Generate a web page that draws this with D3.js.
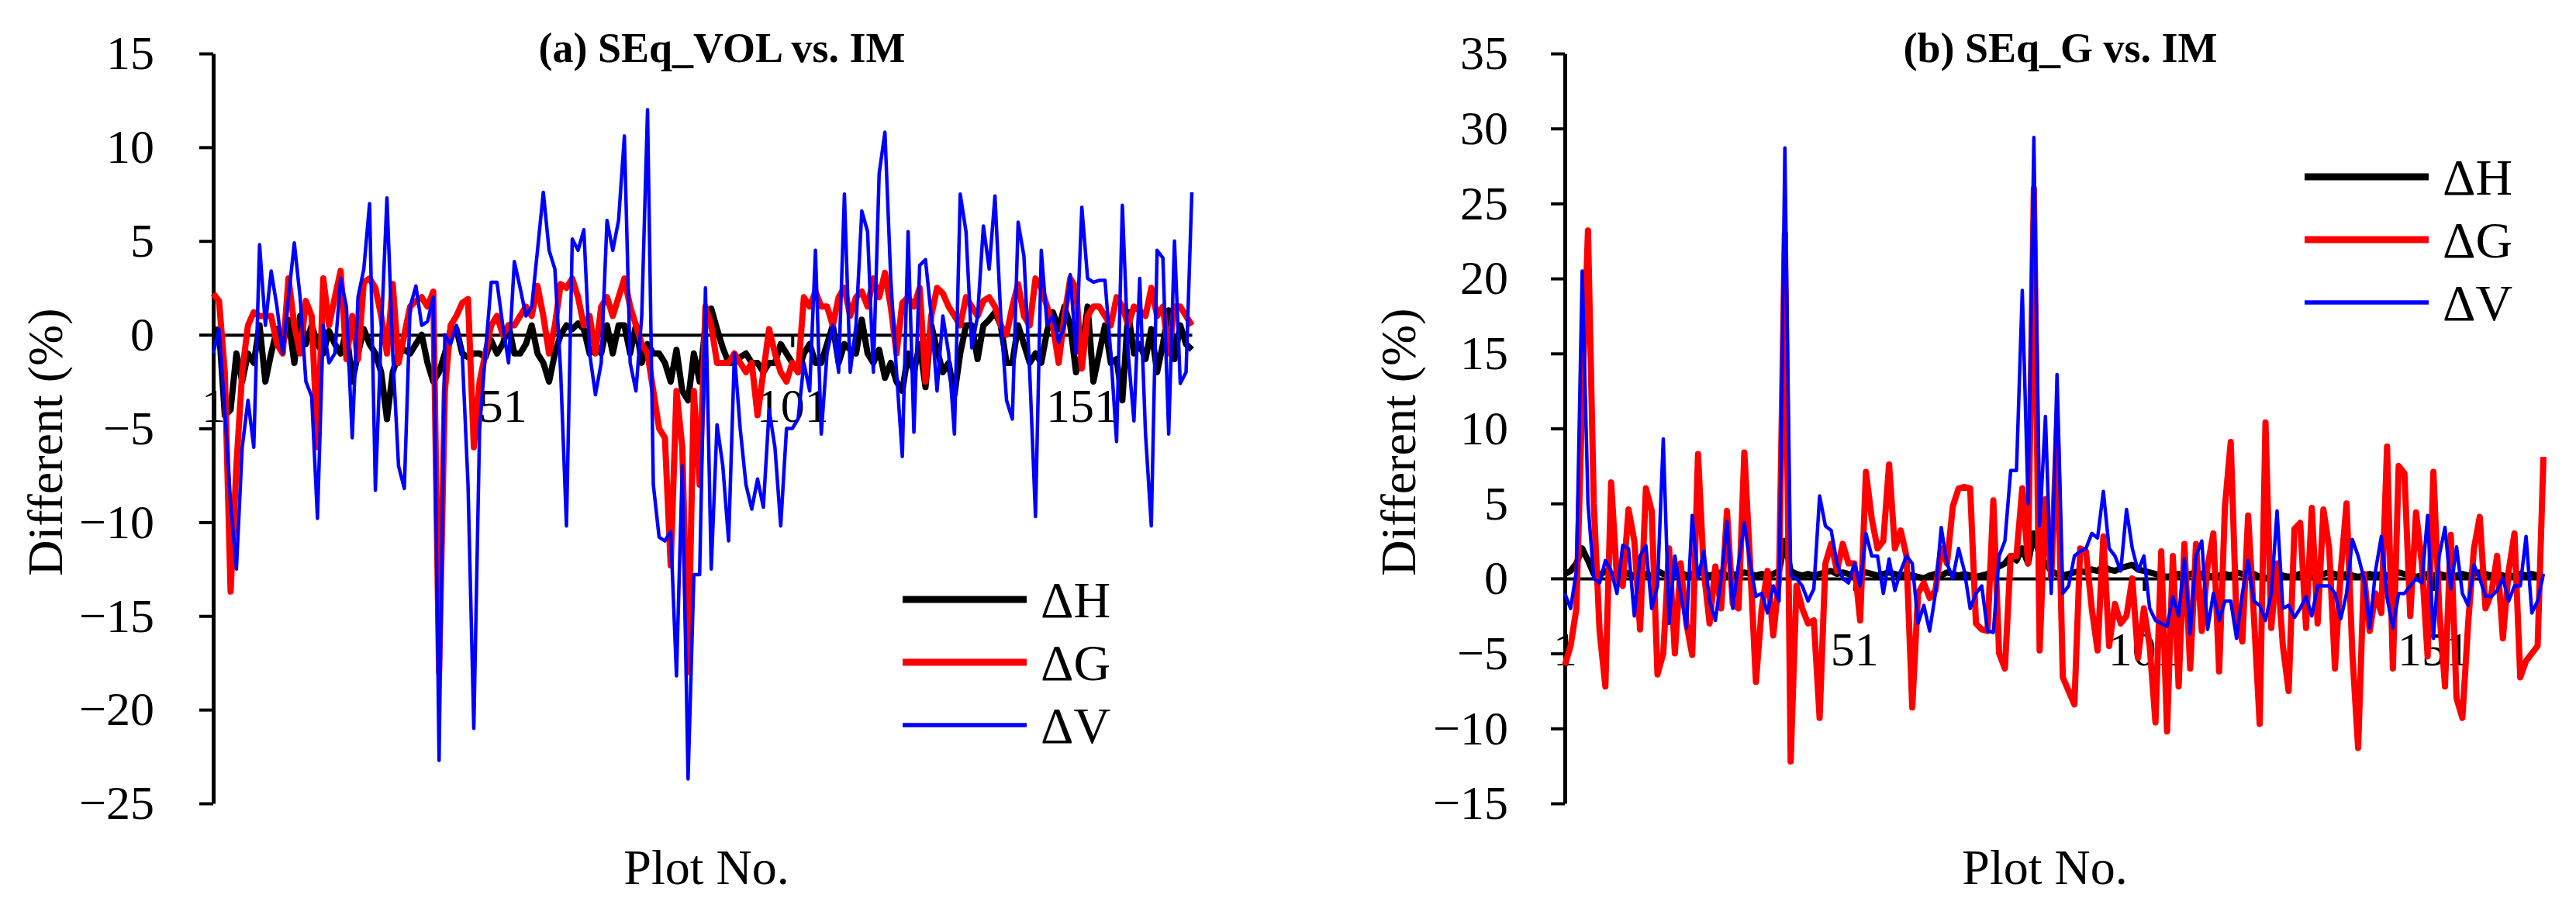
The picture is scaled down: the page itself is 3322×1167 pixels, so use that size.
<!DOCTYPE html>
<html><head><meta charset="utf-8">
<script src="https://cdn.jsdelivr.net/npm/d3@7"></script>
<style>body{margin:0;background:#fff}svg{display:block}</style>
</head><body>
<svg id="c" width="3322" height="1167"></svg>
<script>
const xTicks = [1, 51, 101, 151];
const seriesNames = ["ΔH", "ΔG", "ΔV"];
const yTicksA = [15, 10, 5, 0, -5, -10, -15, -20, -25];
const yTicksB = [35, 30, 25, 20, 15, 10, 5, 0, -5, -10, -15];

const hA = [0.2,0.3,-4.3,-4,-1,-2.5,-1,-1.5,0.5,-2.5,
-1,0.3,-0.5,0.8,-1.5,1,-0.5,0.5,-0.5,-1,
0.2,-0.5,-1,0.2,-2.5,-1,0.3,-0.5,-1,-2,
-4.5,-2,-1,-0.8,-1,-0.5,0,-1.5,-2.5,-2,
-1,0.3,0.3,-1,-1.2,-1,-1,-1.2,-0.3,-1,
-0.5,0.5,-1,-1,-0.5,0.5,-1,-1.5,-2.5,-1,
0,0.5,0.3,0.6,0.3,-1,-0.5,-1,0.5,-1,
0.5,0.5,-1,0.5,-1.5,-0.5,-1,-1,-1.5,-2.5,
-0.8,-3,-3.5,-1,-2.5,0.5,1.4,0.3,-0.7,-1.5,
-1.5,-1.2,-1,-1.5,-1.5,-2,-1.5,-1.5,-0.5,-1,
-1.5,-2,-1,-0.5,-1.5,-1.5,-0.5,0.5,-1.5,-0.5,
-0.8,-1,0.8,-1,-1.5,-0.8,-2.3,-1.5,-2.5,-3,
-1,-2,-0.5,-2.8,0.5,-0.8,-2,-1.5,-3.2,-1,
0.5,0.5,-1.3,0.5,0.8,1.2,0.5,-1.5,-1.5,0.5,
-0.5,-1.5,-1,-1.5,0.2,1.2,0.3,1.5,0.5,-2,
-1,1.5,-2.5,-1,0.5,-1.5,-1.3,-3.5,1.2,-1,
-0.5,-1.3,0.3,-2,-0.5,1.3,-1.3,0.5,-0.5,-0.8];
const gA = [2.2,1.8,-2,-13.7,-7,-2,0.5,1.2,1,1,
1,-0.5,-1,3,0.5,-1,1.8,1,-6,3,
0.5,2,3.4,-1.3,1,-1.3,2.8,3,2.5,1,
-1,2.7,-1.5,0,1.5,1.8,2,1.5,2.3,-18,
-3,0.5,1,1.7,1.9,-6,-2.5,-1,0.5,1,
0,0.5,0.5,1,1.5,1,2.6,1,-1,0.5,
2.7,2.5,3,2,0.5,1,-1,1.5,2,1,
2,3,1.5,0.5,-0.5,-1,-3,-5,-5.5,-12.3,
-3,-6,-18,-3,-8,1.5,0.5,-1.5,-1.5,-1.5,
-1,-1.5,-2,-1.5,-4.3,-2,0.3,-1,-2,-2.5,
-1.5,-2,2,1.5,2.3,1.5,1.5,0.5,2,2.5,
1,2,2.3,1.5,3,2,3.3,1.5,-1,1.7,
2,1.5,2.5,-2.5,1,2.5,2.2,1.5,1,0.5,
2,1.5,1,1.8,2,1.5,0.5,0,1.5,2.7,
1,0.5,3,2.5,1.5,0.5,-1.5,1,3,2.5,
-1.8,1,1.5,1.5,1,0.5,2,1.5,0.5,1.5,
1.3,1,2.5,1,1.5,-1,1.5,1.5,1,0.5];
const vA = [-1,0.3,-4,-9,-12.5,-6,-3.5,-6,4.8,0.5,
3.4,1.5,-1,2,4.9,2,-2.5,-3.3,-9.8,0.5,
-1.5,-1,3,1.5,-5.5,2,3.5,7,-8.3,0,
7.3,-1,-7,-8.2,1.5,2.6,0.5,0.7,2,-22.7,
0,-0.5,0.5,-1,-8,-21,-5,-1,2.8,2.8,
0.5,-1.5,3.9,2.5,1,1.5,4.5,7.6,4.5,3.5,
-2,-10.2,5.1,4.5,5.6,-1,-3.2,-1.5,6.1,4.5,
6.1,10.6,-1.5,-3,1,12,-8,-10.8,-11,-10.5,
-18.2,-7,-23.7,-12.8,-12.8,2.5,-12.5,-4.8,-7,-11,
-1,-5,-8,-9.3,-7.7,-9.2,-4,-6,-10.2,-5,
-5,-4.5,-1.5,-3,4.5,-5.3,-1,0.5,-2,7.5,
-2,0.5,6.6,5.5,-2,8.6,10.8,3,-2,-6.5,
5.5,-5.2,3.7,4,1,-3,1,-1,-5.3,7.5,
5.5,-0.7,1,5.8,3.5,7.4,1,-3.5,-4.5,6,
4.2,-2,-9.7,4.5,0.5,1,-0.4,0.5,3.2,-1,
6.8,3,2.8,2.9,2.9,-1,-5.7,6.9,-1,-4.6,
3,-5.3,-10.2,4.5,4.1,-5.3,5,-2.6,-2,7.6];

const hB = [0.3,0.5,1,2,1.2,0.3,0.2,0.5,0.3,0.2,
0.5,0.3,0.2,0.4,0.3,0.2,0.5,0.3,0.2,0.3,
0.4,0.2,0.3,0.5,0.3,0.2,0.3,0.4,0.2,0.3,
0.2,0.4,0.3,0.2,0.3,0.2,0.3,0.5,2.5,0.5,
0.3,0.2,0.3,0.2,0.3,0.4,0.5,0.3,0.4,0.3,
0.2,0.3,0.4,0.3,0.2,0.3,0.4,0.3,0.2,0.3,
0.2,0.1,0,0.2,0.3,0.2,0.4,0.3,0.2,0.3,
0.2,0.1,0.2,0.3,0.5,0.8,1,1.5,1.2,2,
1,3,1.5,1,0.5,0.3,0.2,0.3,0.4,0.5,
0.4,0.6,0.5,0.8,0.6,0.5,0.7,0.8,0.9,0.6,
0.5,0.4,0.3,0.2,0.1,0.2,0.3,0.2,0.3,0.4,
0.3,0.2,0.1,0.2,0.3,0.2,0.4,0.3,0.2,0.3,
0.1,0,0.2,0.3,0.2,0.1,0.2,0.3,0.2,0.1,
0.2,0.3,0.4,0.3,0.2,0.3,0.2,0.1,0.2,0.3,
0.2,0.3,0.2,0.3,0.4,0.3,0.2,0.1,0.2,0.3,
0.2,0.3,0.2,0.1,0.2,0.3,0.2,0.3,0.4,0.3,
0.2,0.3,0.2,0.1,0.2,0.3,0.2,0.3,0.2,0.3];
const gB = [-5.8,-4.5,-2,12,23.2,5,-3.5,-7.2,6.4,0,
-0.5,4.6,2.5,-3.4,6,4.5,-6.4,-5,2,-5,
1,-3,-5.1,8.3,0.5,-3,0.8,-2,4.5,-1.7,
-2,8.4,1,-6.9,-2,0.5,-3.8,0,23,-12.2,
-0.5,-2,-3,-2.8,-9.3,1,2.3,0.5,2.3,1,
1,-2.8,7.1,4,2,2.5,7.6,2,3.2,1.5,
-8.6,-1,-0.3,-1.3,-0.8,2,1,4.8,6,6.1,
6,-3,-3.4,-3.5,5.2,-5,-6,1.5,1.5,6,
1,26,-4.8,5.3,0,10,-6.6,-7.5,-8.4,2,
1.8,-2,-4.8,2.8,-4.5,-1.7,-3,-2.5,0,-5.3,
-2,-4.5,-9.6,1.8,-10.2,1.5,-7.2,2.3,-6,2.3,
-3.5,0.8,3,-6.2,4.8,9.1,-2.8,-4.2,4.2,-2.5,
-9.7,10.4,-3.3,1,-4.5,-7.5,3.3,3.7,-3.3,4.7,
-3,4.6,2,-6,0.5,5,-5,-11.3,0.3,-3.5,
-1,-2.3,8.8,-6,7.5,7,-2.5,4.4,1,-5.2,
7.1,-2,-7.2,2.9,-8,-9.3,-3,2,4.1,-2,
-1,1.5,-4,0.5,3,-6.6,-5.5,-5,-4.5,8.1];
const vB = [-1,-2,0.5,20.5,5,0,-0.3,1.2,0.5,-1,
2.2,2,-2.5,1.5,2.2,-2,-0.5,9.3,-3,1.5,
-1,-3.3,4.2,0,1.8,-1.5,-2.8,0,3.8,-2,
1,3.7,1,-1.2,-1,-2.3,-0.5,-1.5,28.7,0.2,
0,-0.5,-1.5,-0.7,5.5,3.5,3.2,1,0,-0.3,
1,-0.5,3,1.5,1.5,-1,1.3,-0.8,0.5,1.5,
1,-3,-1.8,-3.5,-1,3.4,1,0,2,0.5,
-2,-1,-0.5,-3.5,-3.6,1.5,2.5,7.2,7.2,19.2,
5,29.4,3.5,10.8,-1,13.6,-1,-0.5,1.5,1.8,
2,3,2.7,5.8,2,1.5,0.5,4.6,2,0.5,
1.5,-2,-2.8,-3,-3.2,-1.2,-2.5,1.3,-3.7,1.5,
2.5,-3.4,-1,-2.8,-1.5,-1.5,-4,-1,1.2,-1.5,
-1.8,-2.8,-1,4.5,-2,-1.8,-2.6,-2,-1.2,-2.5,
-0.5,-0.5,-0.5,-1,-2.7,-1,2.6,1.5,0,-3.3,
0.5,2.8,-1.3,-3.3,-1,-1,-0.5,0,-0.3,4.2,
-4,1.5,3.4,-0.7,2.1,-1,-1.8,0.9,0,-1.2,
-1.2,-0.8,0,-1.5,-0.5,-0.5,2.8,-2.3,-1.5,0.3];

const colors = ["#000", "#ff0000", "#0000ff"];
const widths = [8, 8, 4.5];
const FONT = "'Liberation Serif','Times New Roman',serif";
const svg = d3.select("#c").style("font-family", FONT);

function panel(cfg) {
  const x = d3.scaleLinear().domain([1, 170]).range([cfg.x0, cfg.x1]);
  const y = d3.scaleLinear().domain(cfg.ydom).range([1036, 69]);
  const g = svg.append("g");
  // y axis
  const ya = g.append("g").attr("transform", `translate(${cfg.x0},0)`)
    .call(d3.axisLeft(y).tickValues(cfg.yticks).tickSize(18).tickPadding(cfg.pad).tickSizeOuter(0));
  ya.select(".domain").attr("stroke-width", 5);
  ya.selectAll(".tick line").attr("stroke-width", 4);
  ya.selectAll("text").attr("font-size", 62).attr("fill", "#000").attr("font-family", FONT);
  // zero axis with category labels
  const xa = g.append("g").attr("transform", `translate(0,${y(0)})`)
    .call(d3.axisBottom(x).tickValues(xTicks).tickFormat(d3.format("d")).tickSize(16).tickPadding(52).tickSizeOuter(0));
  xa.select(".domain").attr("stroke-width", 4);
  xa.selectAll(".tick line").attr("stroke-width", 4);
  xa.selectAll("text").attr("font-size", 62).attr("fill", "#000").attr("font-family", FONT);
  // series
  const line = d3.line().x((d, i) => x(i + 1)).y(d => y(d));
  cfg.series.forEach((s, k) => {
    g.append("path").datum(s).attr("d", line).attr("fill", "none")
      .attr("stroke", colors[k]).attr("stroke-width", widths[k]).attr("stroke-linejoin", "round");
  });
  // titles
  g.append("text").attr("x", cfg.tx).attr("y", 80).attr("text-anchor", "middle")
    .attr("font-size", 54).attr("font-weight", "bold").text(cfg.title);
  g.append("text").attr("transform", `translate(${cfg.ylx},570) rotate(-90)`)
    .attr("text-anchor", "middle").attr("dominant-baseline", "central").attr("font-size", 64).text("Different (%)");
  g.append("text").attr("x", cfg.tx - 20).attr("y", 1140).attr("text-anchor", "middle")
    .attr("font-size", 64).text("Plot No.");
  // legend
  seriesNames.forEach((n, k) => {
    const ly = cfg.ly + k * 81;
    g.append("line").attr("x1", cfg.lx).attr("x2", cfg.lx + 160).attr("y1", ly).attr("y2", ly)
      .attr("stroke", colors[k]).attr("stroke-width", widths[k] + 1);
    g.append("text").attr("x", cfg.lx + 178).attr("y", ly).attr("dominant-baseline", "central")
      .attr("font-size", 66).text(n);
  });
}

panel({x0: 275, x1: 1537, ydom: [-25, 15], yticks: yTicksA, pad: 58, series: [hA, gA, vA],
  title: "(a) SEq_VOL vs. IM", tx: 931, ylx: 58, lx: 1164, ly: 773});
panel({x0: 2018, x1: 3280, ydom: [-15, 35], yticks: yTicksB, pad: 55, series: [hB, gB, vB],
  title: "(b) SEq_G vs. IM", tx: 2657, ylx: 1803, lx: 2972, ly: 228});
</script>
</body></html>
